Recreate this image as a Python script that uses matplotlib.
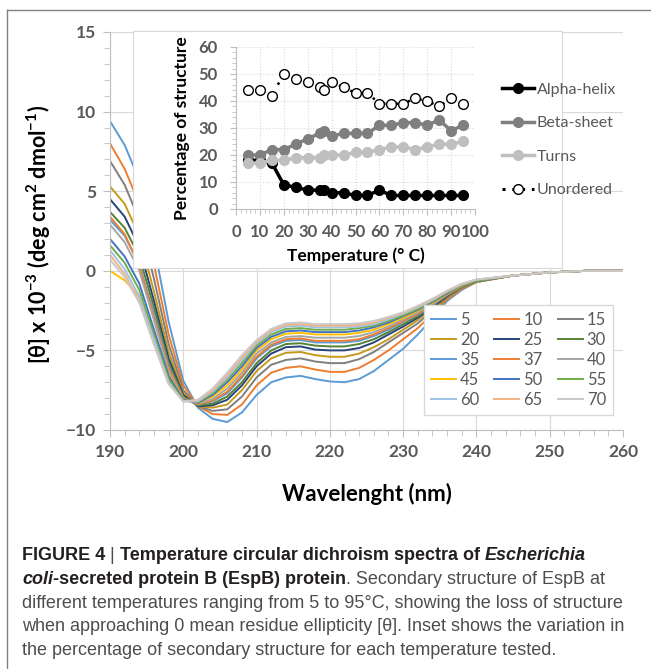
import matplotlib
matplotlib.use("Agg")
import matplotlib.pyplot as plt
from matplotlib.lines import Line2D
from matplotlib.text import Annotation
from matplotlib.ticker import MultipleLocator

plt.rcParams["font.family"] = ["Lato", "DejaVu Sans"]
plt.rcParams["font.weight"] = "bold"
plt.rcParams["axes.labelweight"] = "bold"
plt.rcParams["mathtext.fontset"] = "custom"
plt.rcParams["mathtext.rm"] = "Lato"
plt.rcParams["mathtext.bf"] = "Lato:bold"

# ---- CD spectra, [theta] x 10^-3 ----
wl = [190, 192, 194, 196, 198, 200, 202, 204, 206, 208, 210, 212, 214, 216, 218,
      220, 222, 224, 226, 228, 230, 232, 234, 236, 238, 240, 245, 250, 255, 260]

cd_5 = [9.4, 7.9, 5.7, 1.6, -3.2, -6.9, -8.6, -9.3, -9.5, -8.9, -7.8, -7.0, -6.7, -6.6, -6.8,
        -6.95, -7.0, -6.8, -6.3, -5.6, -4.9, -4.0, -3.0, -1.9, -1.2, -0.7, -0.3, -0.1, 0.0, 0.0]
cd_10 = [8.0, 6.4, 4.2, 0.4, -4.0, -7.2, -8.5, -9.0, -9.05, -8.4, -7.2, -6.4, -6.1, -6.0, -6.2,
         -6.35, -6.35, -6.1, -5.6, -5.0, -4.3, -3.6, -2.7, -1.8, -1.15, -0.7, -0.3, -0.1, 0.0, 0.0]
cd_15 = [6.9, 5.4, 3.2, -0.5, -4.6, -7.5, -8.5, -8.8, -8.7, -7.9, -6.7, -5.9, -5.6, -5.5, -5.7,
         -5.8, -5.8, -5.55, -5.1, -4.5, -3.9, -3.3, -2.5, -1.7, -1.1, -0.7, -0.3, -0.1, 0.0, 0.0]
cd_20 = [5.3, 4.2, 2.2, -1.3, -5.1, -7.7, -8.5, -8.6, -8.4, -7.5, -6.3, -5.5, -5.15, -5.1, -5.3,
         -5.4, -5.4, -5.2, -4.8, -4.3, -3.7, -3.1, -2.4, -1.65, -1.05, -0.7, -0.3, -0.1, 0.0, 0.0]
cd_25 = [4.5, 3.4, 1.5, -1.9, -5.5, -7.8, -8.5, -8.45, -8.1, -7.2, -6.0, -5.2, -4.8, -4.75, -4.95,
         -5.0, -5.0, -4.85, -4.5, -4.0, -3.5, -2.95, -2.3, -1.6, -1.0, -0.65, -0.3, -0.1, 0.0, 0.0]
cd_30 = [3.7, 2.7, 0.9, -2.3, -5.8, -7.9, -8.45, -8.35, -7.9, -7.0, -5.8, -5.0, -4.6, -4.55, -4.7,
         -4.75, -4.75, -4.6, -4.3, -3.85, -3.35, -2.85, -2.2, -1.55, -1.0, -0.65, -0.3, -0.1, 0.0, 0.0]
cd_35 = [3.2, 2.2, 0.4, -2.7, -6.0, -8.0, -8.4, -8.2, -7.7, -6.7, -5.5, -4.75, -4.4, -4.35, -4.5,
         -4.5, -4.5, -4.4, -4.1, -3.7, -3.2, -2.75, -2.15, -1.5, -0.95, -0.65, -0.3, -0.1, 0.0, 0.0]
cd_37 = [3.4, 2.3, 0.3, -2.9, -6.1, -8.0, -8.4, -8.15, -7.6, -6.6, -5.4, -4.65, -4.3, -4.25, -4.4,
         -4.4, -4.4, -4.3, -4.0, -3.6, -3.15, -2.7, -2.1, -1.5, -0.95, -0.6, -0.3, -0.1, 0.0, 0.0]
cd_40 = [2.9, 1.8, 0.0, -3.1, -6.3, -8.05, -8.35, -8.05, -7.4, -6.4, -5.2, -4.5, -4.15, -4.1, -4.2,
         -4.2, -4.2, -4.1, -3.85, -3.5, -3.05, -2.6, -2.05, -1.45, -0.95, -0.6, -0.3, -0.1, 0.0, 0.0]
cd_45 = [0.0, -0.6, -1.6, -3.9, -6.5, -8.1, -8.3, -7.9, -7.2, -6.2, -5.0, -4.3, -3.95, -3.9, -4.0,
         -4.0, -4.0, -3.9, -3.7, -3.35, -2.95, -2.5, -2.0, -1.4, -0.9, -0.6, -0.3, -0.1, 0.0, 0.0]
cd_50 = [2.0, 0.9, -0.8, -3.7, -6.6, -8.1, -8.3, -7.8, -7.0, -6.0, -4.85, -4.15, -3.8, -3.75, -3.85,
         -3.85, -3.85, -3.75, -3.55, -3.25, -2.85, -2.45, -1.95, -1.4, -0.9, -0.6, -0.3, -0.1, 0.0, 0.0]
cd_55 = [1.6, 0.5, -1.2, -4.0, -6.8, -8.15, -8.25, -7.7, -6.85, -5.8, -4.7, -4.0, -3.65, -3.6, -3.7,
         -3.7, -3.7, -3.6, -3.45, -3.15, -2.8, -2.4, -1.9, -1.35, -0.9, -0.6, -0.3, -0.1, 0.0, 0.0]
cd_60 = [1.3, 0.1, -1.6, -4.3, -7.0, -8.2, -8.2, -7.6, -6.7, -5.6, -4.55, -3.85, -3.5, -3.45, -3.55,
         -3.55, -3.55, -3.5, -3.35, -3.05, -2.7, -2.3, -1.85, -1.3, -0.85, -0.55, -0.3, -0.1, 0.0, 0.0]
cd_65 = [1.0, -0.2, -1.9, -4.6, -7.1, -8.2, -8.15, -7.5, -6.55, -5.45, -4.45, -3.75, -3.4, -3.35, -3.45,
         -3.45, -3.45, -3.4, -3.25, -2.95, -2.65, -2.25, -1.8, -1.3, -0.85, -0.55, -0.3, -0.1, 0.0, 0.0]
cd_70 = [0.7, -0.4, -2.0, -4.6, -7.1, -8.2, -8.1, -7.4, -6.4, -5.3, -4.35, -3.65, -3.3, -3.25, -3.35,
         -3.35, -3.35, -3.3, -3.15, -2.9, -2.6, -2.2, -1.75, -1.25, -0.8, -0.55, -0.3, -0.1, 0.0, 0.0]

spec_labels = ["5", "10", "15", "20", "25", "30", "35", "37", "40", "45", "50", "55", "60", "65", "70"]
spec_colors = ["#5B9BD5", "#ED7D31", "#7F7F7F", "#C59A1C", "#264478", "#548235", "#5B9BD5", "#ED7D31",
               "#A5A5A5", "#FFC000", "#4472C4", "#70AD47", "#9DC3E6", "#F4B183", "#C9C9C9"]
spectra = [cd_5, cd_10, cd_15, cd_20, cd_25, cd_30, cd_35, cd_37, cd_40, cd_45,
           cd_50, cd_55, cd_60, cd_65, cd_70]

# ---- inset: % secondary structure vs temperature ----
temp = [5, 10, 15, 20, 25, 30, 35, 37, 40, 45, 50, 55, 60, 65, 70, 75, 80, 85, 90, 95]
alpha = [18, 18, 17, 9, 8, 7, 7, 7, 6, 6, 5, 5, 7, 5, 5, 5, 5, 5, 5, 5]
beta = [20, 20, 22, 22, 24, 26, 28, 29, 27, 28, 28, 28, 31, 31, 32, 32, 31, 33, 29, 31]
turns = [17, 17, 18, 18, 19, 19, 19, 20, 20, 20, 21, 21, 22, 23, 23, 22, 23, 24, 24, 25]
unordered = [44, 44, 42, 50, 48, 47, 45, 44, 47, 45, 43, 43, 39, 39, 39, 41, 40, 38, 41, 39]

W, H = 651, 669
TXT = "#595959"
AX = "#BFBFBF"
GRID = "#D9D9D9"


def bold_ticks(a):
    for t in a.get_xticklabels() + a.get_yticklabels():
        t.set_fontweight("bold")


fig = plt.figure(figsize=(W / 100, H / 100), dpi=100)

# outer frame (top and left edge only, as in the cropped page)
fig.add_artist(Line2D([7 / W, 1], [1 - 10 / H, 1 - 10 / H], color="#808080", lw=1))
fig.add_artist(Line2D([7 / W, 7 / W], [0, 1 - 10 / H], color="#808080", lw=1))

# ---- main CD plot ----
ax = fig.add_axes([110 / W, 1 - 430 / H, 513 / W, 398 / H])
lines = []
for y, lab, c in zip(spectra, spec_labels, spec_colors):
    lines += ax.plot(wl, y, color=c, lw=1.4, label=lab)
ax.set_xlim(190, 260)
ax.set_ylim(-10, 15)
ax.xaxis.set_major_locator(MultipleLocator(10))
ax.xaxis.set_minor_locator(MultipleLocator(2))
ax.yaxis.set_major_locator(MultipleLocator(5))
ax.yaxis.set_minor_locator(MultipleLocator(1))
ax.grid(True, which="major", color=GRID, lw=0.8)
ax.set_axisbelow(True)
for s in ("top", "right"):
    ax.spines[s].set_visible(False)
for s in ("left", "bottom"):
    ax.spines[s].set_color(AX)
ax.tick_params(which="both", direction="out", color=AX, labelcolor=TXT, labelsize=12.5)
ax.tick_params(which="major", length=5, pad=5)
ax.tick_params(which="minor", length=4)
bold_ticks(ax)
ax.set_xlabel("Wavelenght (nm)", fontsize=16, fontweight="bold", color="black", va="top")
ax.xaxis.set_label_coords(0.5, -0.133)
fig.text(39 / W, 1 - 234 / H,
         r"[θ] x 10$^{\mathbf{-3}}$ (deg cm$^{\mathbf{2}}$ dmol$^{\mathbf{-1}}$)",
         fontsize=15.5, fontweight="bold", color="black", rotation=90, ha="center", va="center")

# row-wise legend order like the original (5,10,15 on the first row)
order = [0, 3, 6, 9, 12, 1, 4, 7, 10, 13, 2, 5, 8, 11, 14]
leg = ax.legend([lines[i] for i in order], [spec_labels[i] for i in order],
                ncol=3, loc="lower right", bbox_to_anchor=(621 / W, 1 - 423 / H),
                bbox_transform=fig.transFigure, prop={"size": 12, "weight": "normal"},
                handlelength=1.5, handletextpad=0.25, columnspacing=0.9, labelspacing=0.24,
                borderpad=0.4, fancybox=False, framealpha=1, edgecolor=GRID)
for t in leg.get_texts():
    t.set_color(TXT)

# ---- inset box + inset axes ----
box = fig.add_axes([133 / W, 1 - 268 / H, 429 / W, 237 / H])
box.set_xticks([])
box.set_yticks([])
for s in box.spines.values():
    s.set_color(GRID)

ins = fig.add_axes([236 / W, 1 - 209 / H, 239 / W, 162 / H])
h_a, = ins.plot(temp, alpha, "-o", color="black", lw=2.5, ms=7)
h_b, = ins.plot(temp, beta, "-o", color="#7F7F7F", lw=2.5, ms=7)
h_t, = ins.plot(temp, turns, "-o", color="#BFBFBF", lw=2.5, ms=7)
ins.plot(temp, unordered, "o", color="black", ls=(0, (1, 4)), lw=1.8, ms=7,
         mfc="white", mec="black", mew=1.0)
h_u = Line2D([], [], color="black", ls=(0, (1, 2.2)), lw=2.2, marker="o", ms=7,
             mfc="white", mec="black", mew=1.0)
ins.set_xlim(0, 100)
ins.set_ylim(0, 60)
ins.xaxis.set_major_locator(MultipleLocator(10))
ins.xaxis.set_minor_locator(MultipleLocator(2))
ins.yaxis.set_major_locator(MultipleLocator(10))
ins.yaxis.set_minor_locator(MultipleLocator(2))
ins.grid(True, which="major", color=GRID, lw=0.8, ls=":")
ins.set_axisbelow(True)
for s in ("top", "right"):
    ins.spines[s].set_visible(False)
for s in ("left", "bottom"):
    ins.spines[s].set_color(AX)
ins.tick_params(which="both", direction="out", color=AX, labelcolor=TXT, labelsize=12)
ins.tick_params(axis="x", which="major", length=4, pad=7)
ins.tick_params(axis="y", which="major", length=4, pad=9)
ins.tick_params(which="minor", length=3)
bold_ticks(ins)
ins.set_xlabel("Temperature (° C)", fontsize=12.5, fontweight="bold", color="black", labelpad=5)
ins.set_ylabel("Percentage of structure", fontsize=12.5, fontweight="bold", color="black",
               labelpad=6)

ileg = ins.legend([h_a, h_b, h_t, h_u], ["Alpha-helix", "Beta-sheet", "Turns", "Unordered"],
                  loc="center left", bbox_to_anchor=(488 / W, 1 - 140 / H),
                  bbox_transform=fig.transFigure, frameon=False,
                  prop={"size": 11.5, "weight": "normal"},
                  handlelength=2.0, handletextpad=0.15, labelspacing=1.2)
for t in ileg.get_texts():
    t.set_color(TXT)

# ---- caption ----
CAP = ["Liberation Sans", "DejaVu Sans"]
DARK = "#231F20"
REG = "#4D4D4D"


def caption_line(ybot, parts):
    prev = None
    for s, wt, st, col in parts:
        kw = dict(fontsize=13, family=CAP, fontweight=wt, fontstyle=st, color=col,
                  ha="left", va="bottom")
        if prev is None:
            prev = fig.text(22 / W, 1 - ybot / H, s, **kw)
        else:
            a = Annotation(s, xy=(1, 0), xycoords=prev, **kw)
            fig.add_artist(a)
            prev = a


caption_line(564, [("FIGURE 4", "bold", "normal", DARK), (" | ", "normal", "normal", REG),
                   ("Temperature circular dichroism spectra of ", "bold", "normal", DARK),
                   ("Escherichia", "bold", "italic", DARK)])
caption_line(588, [("coli", "bold", "italic", DARK),
                   ("-secreted protein B (EspB) protein", "bold", "normal", DARK),
                   (". Secondary structure of EspB at", "normal", "normal", REG)])
caption_line(611.5, [("different temperatures ranging from 5 to 95°C, showing the loss of structure",
                      "normal", "normal", REG)])
caption_line(635, [("when approaching 0 mean residue ellipticity [θ]. Inset shows the variation in",
                    "normal", "normal", REG)])
caption_line(659, [("the percentage of secondary structure for each temperature tested.",
                    "normal", "normal", REG)])

fig.savefig("out.png", dpi=100)
